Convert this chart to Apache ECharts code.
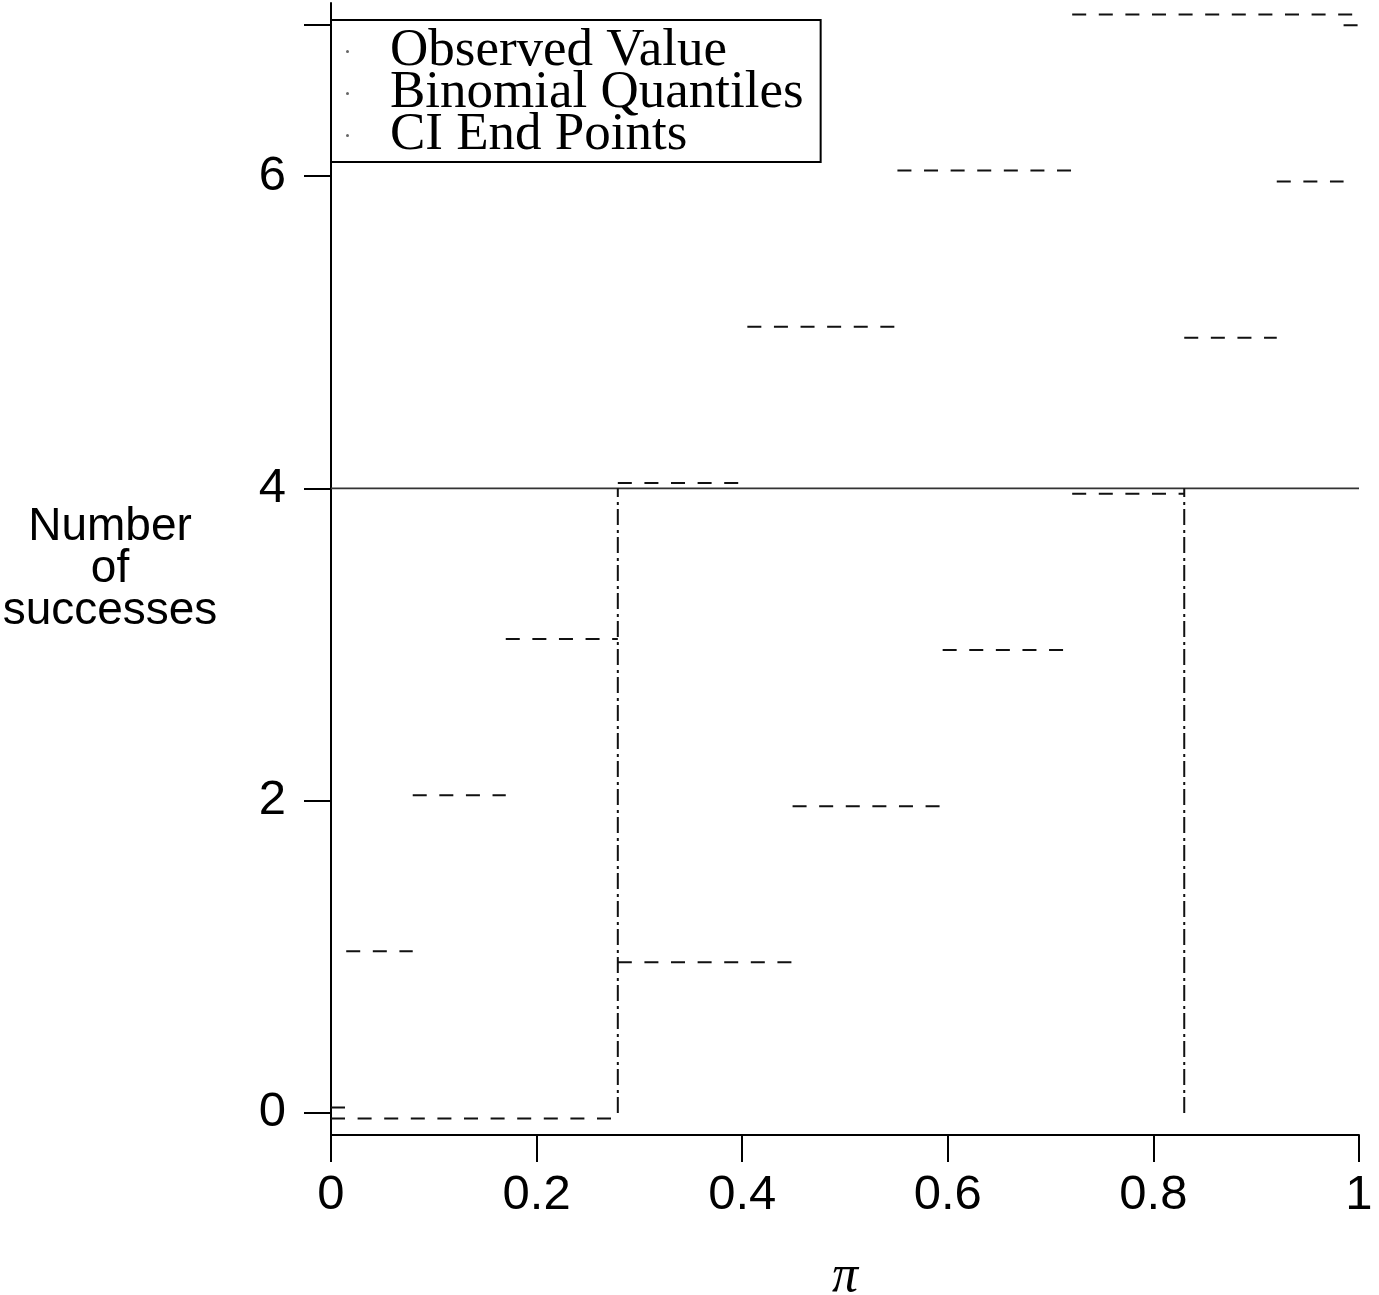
<!DOCTYPE html>
<html>
<head>
<meta charset="utf-8">
<script src="https://cdn.jsdelivr.net/npm/echarts@6/dist/echarts.min.js"></script>
<style>
html,body{margin:0;padding:0;background:#fff;}
#chart{width:1379px;height:1295px;}
</style>
</head>
<body>
<div id="chart"></div>
<script>
// ---- data ----
const xTickLabels = [0, 0.2, 0.4, 0.6, 0.8, 1];
const yTickLabels = [0, 2, 4, 6];
const yTickMarks = [0, 2, 4, 6, 6.967];

const quantileLevels = [0, 1, 2, 3, 4, 5, 6, 7];
// pi values where the upper (0.9) quantile changes level
const upperBreaks = [0, 0.0148, 0.0795, 0.170, 0.279, 0.405, 0.551, 0.721, 1.0];
// pi values where the lower (0.1) quantile changes level
const lowerBreaks = [0, 0.279, 0.449, 0.595, 0.721, 0.830, 0.920, 0.985, 1.0];
const upperShift = 0.035;
const lowerShift = -0.035;

const observedValue = 4;
const ciEndPoints = [0.279, 0.830];

// ---- build series data ----
function stepSegments(breaks, levels, shift) {
  const d = [];
  levels.forEach((k, i) => {
    d.push([breaks[i], k + shift]);
    d.push([breaks[i + 1], k + shift]);
    if (i < levels.length - 1) d.push([breaks[i + 1], '-']);
  });
  return d;
}
const upperData = stepSegments(upperBreaks, quantileLevels, upperShift);
const lowerData = stepSegments(lowerBreaks, quantileLevels, lowerShift);
const observedData = [[0, observedValue], [1, observedValue]];
const ciData = [];
ciEndPoints.forEach((p, i) => {
  ciData.push([p, 0], [p, observedValue]);
  if (i < ciEndPoints.length - 1) ciData.push([p, '-']);
});

const sansFont = "'Liberation Sans', 'DejaVu Sans', sans-serif";
const serifFont = "'Liberation Serif', 'DejaVu Serif', serif";

const chart = echarts.init(document.getElementById('chart'), null, {renderer: 'canvas'});
const dashQ = [14, 12.6];
chart.setOption({
  animation: false,
  backgroundColor: '#fff',
  grid: {left: 331, right: 20, top: 3, bottom: 160, containLabel: false, outerBoundsMode: 'none'},
  legend: {
    left: 331, top: 20, orient: 'vertical',
    padding: [5, 17, 0, 15],
    itemGap: -11, itemWidth: 3, itemHeight: 3, icon: 'circle',
    borderColor: '#000', borderWidth: 2, borderRadius: 0,
    selectedMode: false,
    textStyle: {fontFamily: serifFont, fontSize: 53, color: '#000', padding: [0, 0, 0, 36]},
    data: ['Observed Value', 'Binomial Quantiles', 'CI End Points']
  },
  xAxis: {
    type: 'value', min: 0, max: 1, interval: 0.2,
    name: 'π', nameLocation: 'middle', nameGap: 116,
    nameTextStyle: {fontFamily: serifFont, fontStyle: 'italic', fontSize: 52, color: '#000'},
    axisLine: {show: true, onZero: false, lineStyle: {color: '#000', width: 2}},
    axisTick: {show: true, inside: false, length: 27, lineStyle: {color: '#000', width: 2}},
    axisLabel: {fontFamily: sansFont, fontSize: 49, color: '#000', margin: 36,
      formatter: v => String(v)},
    splitLine: {show: false}
  },
  yAxis: {
    type: 'value', min: -0.141, max: 7.108,
    name: 'Number\nof\nsuccesses', nameLocation: 'middle', nameRotate: 0, nameGap: 221,
    nameTextStyle: {fontFamily: sansFont, fontSize: 46, lineHeight: 42, color: '#000', align: 'center', verticalAlign: 'middle', padding: [8, 0, 0, 0]},
    axisLine: {show: true, onZero: false, lineStyle: {color: '#000', width: 2}},
    axisTick: {show: true, inside: false, length: 27, lineStyle: {color: '#000', width: 2}, customValues: yTickMarks},
    axisLabel: {fontFamily: sansFont, fontSize: 49, color: '#000', margin: 45, customValues: yTickLabels},
    splitLine: {show: false}
  },
  series: [
    {
      name: 'Observed Value', type: 'line', data: observedData,
      showSymbol: false, symbol: 'none', silent: true,
      itemStyle: {color: '#666'},
      lineStyle: {color: '#333', width: 1.8, type: 'solid'}
    },
    {
      name: 'Binomial Quantiles', type: 'line', data: upperData,
      showSymbol: false, symbol: 'none', silent: true, connectNulls: false,
      itemStyle: {color: '#666'},
      lineStyle: {color: '#111', width: 2, type: dashQ}
    },
    {
      name: 'Binomial Quantiles', type: 'line', data: lowerData,
      showSymbol: false, symbol: 'none', silent: true, connectNulls: false,
      itemStyle: {color: '#666'},
      lineStyle: {color: '#111', width: 2, type: dashQ}
    },
    {
      name: 'CI End Points', type: 'line', data: ciData,
      showSymbol: false, symbol: 'none', silent: true, connectNulls: false,
      itemStyle: {color: '#666'},
      lineStyle: {color: '#111', width: 2, type: [16, 4, 3, 5]}
    }
  ]
});
</script>
</body>
</html>
